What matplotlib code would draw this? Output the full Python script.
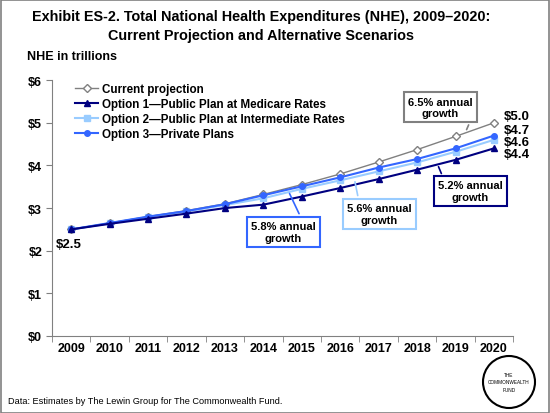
import matplotlib
matplotlib.use("Agg")
import matplotlib.pyplot as plt
from matplotlib.patches import Circle, Rectangle

years = [2009, 2010, 2011, 2012, 2013, 2014, 2015, 2016, 2017, 2018, 2019, 2020]
current = [2.5, 2.65, 2.8, 2.94, 3.1, 3.32, 3.55, 3.8, 4.08, 4.37, 4.68, 5.0]
opt1 = [2.5, 2.63, 2.75, 2.87, 3.0, 3.08, 3.27, 3.47, 3.68, 3.9, 4.13, 4.4]
opt2 = [2.5, 2.64, 2.79, 2.92, 3.07, 3.23, 3.45, 3.65, 3.86, 4.07, 4.32, 4.6]
opt3 = [2.5, 2.65, 2.8, 2.93, 3.09, 3.3, 3.51, 3.72, 3.95, 4.15, 4.4, 4.7]
series_names = ["Current projection", "Option 1\u2014Public Plan at Medicare Rates",
                "Option 2\u2014Public Plan at Intermediate Rates", "Option 3\u2014Private Plans"]
end_labels = ["$5.0", "$4.7", "$4.6", "$4.4"]
yticks = [0, 1, 2, 3, 4, 5, 6]

plt.rcParams['font.family'] = ['Liberation Sans', 'DejaVu Sans']

fig = plt.figure(figsize=(5.5, 4.14), dpi=100)
fig.patches.append(Rectangle((0.001, 0.001), 0.997, 0.997, transform=fig.transFigure,
                             fill=False, edgecolor='#808080', linewidth=1.2))
ax = fig.add_axes([0.0945, 0.186, 0.8385, 0.618])
x = list(range(len(years)))

c_cur, c1, c2, c3 = '#808080', '#000080', '#99CCFF', '#3366FF'
ax.plot(x, current, color=c_cur, lw=1.0, marker='D', ms=4, mfc='white', mec=c_cur, label=series_names[0], zorder=3)
ax.plot(x, opt1, color=c1, lw=1.5, marker='^', ms=4.5, mfc=c1, mec=c1, label=series_names[1], zorder=4)
ax.plot(x, opt2, color=c2, lw=1.5, marker='s', ms=4, mfc=c2, mec=c2, label=series_names[2], zorder=2)
ax.plot(x, opt3, color=c3, lw=1.5, marker='o', ms=4, mfc=c3, mec=c3, label=series_names[3], zorder=3)

ax.set_xlim(-0.5, len(years) - 0.5)
ax.set_ylim(0, 6)
ax.set_xticks(x)
ax.set_xticklabels([str(y) for y in years], fontsize=9, fontweight='bold')
ax.set_xticks([i - 0.5 for i in range(len(years) + 1)], minor=True)
ax.tick_params(axis='x', which='major', length=0, pad=4)
ax.tick_params(axis='x', which='minor', length=4, color='#808080', direction='out')
ax.set_yticks(yticks)
ax.set_yticklabels(["$%d" % v for v in yticks], fontsize=9, fontweight='bold')
ax.tick_params(axis='y', length=4, color='#808080', pad=3)
for s in ['top', 'right']:
    ax.spines[s].set_visible(False)
for s in ['left', 'bottom']:
    ax.spines[s].set_color('#808080')

leg = ax.legend(loc='upper left', bbox_to_anchor=(0.035, 1.015), frameon=False,
                prop={'size': 8.4, 'weight': 'bold'}, handlelength=2.0, labelspacing=0.25,
                borderaxespad=0.2, handletextpad=0.3)

label_y = [5.15, 4.83, 4.56, 4.27]
for lab, ly in zip(end_labels, label_y):
    ax.text(11.25, ly, lab, fontsize=9.5, fontweight='bold', ha='left', va='center', clip_on=False)
ax.text(-0.4, current[0] - 0.2, "$2.5", fontsize=9.5, fontweight='bold', ha='left', va='top')

boxes = [
    ("6.5% annual\ngrowth", (9.6, 5.36), c_cur, (10.26, 4.78), (10.37, 5.01)),
    ("5.2% annual\ngrowth", (10.39, 3.40), c1, (9.53, 4.03), (9.66, 3.75)),
    ("5.6% annual\ngrowth", (8.02, 2.86), c2, (7.37, 3.68), (7.47, 3.23)),
    ("5.8% annual\ngrowth", (5.52, 2.44), c3, (5.65, 3.40), (5.96, 2.81)),
]
for txt, pos, col, p0, p1 in boxes:
    ax.annotate("", xy=p0, xytext=p1, arrowprops=dict(arrowstyle='-', color=col, lw=1.2), zorder=5)
    ax.text(pos[0], pos[1], txt, fontsize=8, fontweight='bold', ha='center', va='center',
            linespacing=1.2, zorder=6,
            bbox=dict(boxstyle='square,pad=0.38', fc='white', ec=col, lw=1.5))

fig.text(0.475, 0.975, "Exhibit ES-2. Total National Health Expenditures (NHE), 2009\u20132020:\nCurrent Projection and Alternative Scenarios",
         ha='center', va='top', fontsize=10.4, fontweight='bold', linespacing=1.4)
fig.text(0.049, 0.862, "NHE in trillions", fontsize=9, fontweight='bold', ha='left', va='center')
fig.text(0.015, 0.029, "Data: Estimates by The Lewin Group for The Commonwealth Fund.",
         fontsize=6.6, ha='left', va='center')

logo = Circle((509, 414 - 383), 26, transform=None, fill=False, ec='black', lw=1.5)
fig.patches.append(logo)
fig.text(509 / 550, 1 - 383 / 414, "THE\nCOMMONWEALTH\nFUND", fontsize=3.4, ha='center', va='center',
         linespacing=1.6)

fig.savefig("out.png", dpi=100)
